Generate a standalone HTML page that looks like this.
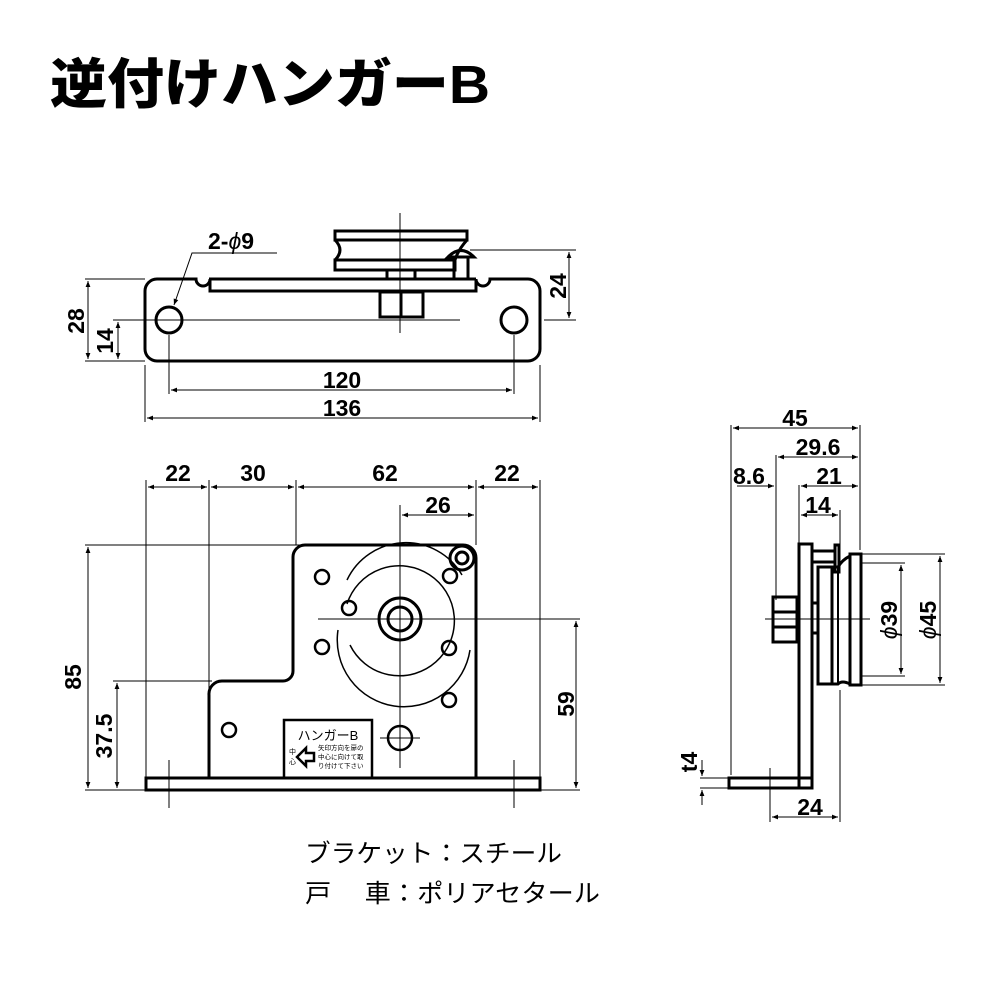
<!DOCTYPE html>
<html><head><meta charset="utf-8"><style>
body{margin:0;background:#fff;width:1000px;height:1000px;overflow:hidden}
svg{display:block}
.t{font-family:"Liberation Sans","Noto Sans CJK JP",sans-serif;font-weight:bold;font-size:23px;fill:#000}
</style></head><body>
<svg width="1000" height="1000" viewBox="0 0 1000 1000" xmlns="http://www.w3.org/2000/svg">
<defs>
<marker id="a" viewBox="0 0 10 10" refX="10" refY="5" markerWidth="8" markerHeight="6" orient="auto-start-reverse"><path d="M0,1L10,5L0,9z" fill="#000"/></marker>
</defs>
<text x="50" y="103" textLength="440" lengthAdjust="spacingAndGlyphs" style="font-family:'Liberation Sans','Noto Sans CJK JP',sans-serif;font-weight:900;font-size:54px">逆付けハンガーB</text>

<!-- TOP VIEW -->
<g fill="none" stroke="#000" stroke-width="3">
<path d="M157,279 H196 A7,7 0 0 0 210,279 V291 H476 V279 A7,7 0 0 0 490,279 H528 A12,12 0 0 1 540,291 V349 A12,12 0 0 1 528,361 H157 A12,12 0 0 1 145,349 V291 A12,12 0 0 1 157,279 Z"/>
<path d="M209,279 H476"/>
<circle cx="169" cy="320" r="13"/><circle cx="514" cy="320" r="13"/>
<rect x="335" y="231" width="132" height="9"/>
<rect x="335" y="260" width="120" height="10"/>
<path d="M335,240 Q345,250 335,260 M467,240 Q458,250 455,260"/>
<rect x="387" y="270" width="28" height="9"/>
<rect x="380" y="292" width="43" height="25"/>
<path d="M401,292V317"/>
<rect x="454" y="257" width="14" height="22"/>
<path d="M448,257 Q461,244 474,257 Z"/>
</g>
<g stroke="#000" stroke-width="1" fill="none">
<path d="M400,213V333 M138,320H460 M544,320H576 M470,250H576 M85,279H145 M85,361H145 M113,320H145 M169,335V394 M514,335V394 M145,365V422 M540,365V422"/>
<path d="M88,281V359" marker-start="url(#a)" marker-end="url(#a)"/>
<path d="M118,322V359" marker-start="url(#a)" marker-end="url(#a)"/>
<path d="M569,252V318" marker-start="url(#a)" marker-end="url(#a)"/>
<path d="M171,390H512" marker-start="url(#a)" marker-end="url(#a)"/>
<path d="M147,418H538" marker-start="url(#a)" marker-end="url(#a)"/>
<path d="M277,253H192 L174,305" marker-end="url(#a)"/>
</g>
<text class="t" x="208" y="249">2-<tspan font-style="italic" font-weight="normal">ϕ</tspan>9</text>
<text class="t" x="342" y="388" text-anchor="middle">120</text>
<text class="t" x="342" y="416" text-anchor="middle">136</text>
<text class="t" transform="translate(84,321) rotate(-90)" text-anchor="middle">28</text>
<text class="t" transform="translate(113,341) rotate(-90)" text-anchor="middle">14</text>
<text class="t" transform="translate(566,286) rotate(-90)" text-anchor="middle">24</text>

<!-- FRONT VIEW -->
<g fill="none" stroke="#000" stroke-width="3">
<rect x="146" y="778" width="394" height="12"/>
<path d="M209,778 V695 A13,13 0 0 1 222,681 H283 A10,10 0 0 0 293,671 V557 A12,12 0 0 1 305,545 H463 A13,13 0 0 1 476,558 V778"/>
<circle cx="400" cy="619" r="21"/><circle cx="400" cy="619" r="12"/>
<circle cx="462" cy="558" r="12"/><circle cx="462" cy="558" r="6"/>
<g stroke-width="2.5">
<circle cx="322" cy="577" r="7"/><circle cx="349" cy="608" r="7"/><circle cx="322" cy="647" r="7"/>
<circle cx="450" cy="576" r="7"/><circle cx="449" cy="648" r="7"/><circle cx="449" cy="700" r="7"/>
<circle cx="229" cy="730" r="7"/><circle cx="400" cy="738" r="12"/>
</g>
<rect x="284" y="720" width="88" height="58" stroke-width="2.5"/>
</g>
<g fill="none" stroke="#000" stroke-width="1.5">
<path d="M347,604 A55,55 0 1 1 350,645"/>
<path d="M347,580 A65,65 0 0 1 462,575"/>
<path d="M338,630 A65,65 0 0 0 470,650"/>
</g>
<g stroke="#000" stroke-width="1" fill="none">
<path d="M400,538V768 M318,619H480 M380,738H420 M169,760V808 M514,760V808"/>
<path d="M146,480V778 M209,480V778 M296,480V545 M476,480V545 M540,480V778 M400,505V545"/>
<path d="M85,545H300 M113,681H212 M480,619H580 M540,790H580 M85,790H146"/>
<path d="M148,487H207" marker-start="url(#a)" marker-end="url(#a)"/>
<path d="M211,487H294" marker-start="url(#a)" marker-end="url(#a)"/>
<path d="M298,487H474" marker-start="url(#a)" marker-end="url(#a)"/>
<path d="M478,487H538" marker-start="url(#a)" marker-end="url(#a)"/>
<path d="M402,515H474" marker-start="url(#a)" marker-end="url(#a)"/>
<path d="M88,547V788" marker-start="url(#a)" marker-end="url(#a)"/>
<path d="M117,683V788" marker-start="url(#a)" marker-end="url(#a)"/>
<path d="M576,621V788" marker-start="url(#a)" marker-end="url(#a)"/>
</g>
<text class="t" x="178" y="481" text-anchor="middle">22</text>
<text class="t" x="253" y="481" text-anchor="middle">30</text>
<text class="t" x="385" y="481" text-anchor="middle">62</text>
<text class="t" x="507" y="481" text-anchor="middle">22</text>
<text class="t" x="438" y="513" text-anchor="middle">26</text>
<text class="t" transform="translate(81,677) rotate(-90)" text-anchor="middle">85</text>
<text class="t" transform="translate(112,736) rotate(-90)" text-anchor="middle">37.5</text>
<text class="t" transform="translate(574,704) rotate(-90)" text-anchor="middle">59</text>
<text x="328" y="740" text-anchor="middle" style="font-family:'Liberation Sans','Noto Sans CJK JP',sans-serif;font-size:13px">ハンガーB</text>
<text x="289" y="754" style="font-family:'Noto Sans CJK JP',sans-serif;font-size:7px">中</text>
<text x="289" y="764" style="font-family:'Noto Sans CJK JP',sans-serif;font-size:7px">心</text>
<path d="M297,757 L306,748 V753 H314 V761 H306 V766 Z" fill="#fff" stroke="#000" stroke-width="2.5"/>
<text x="318" y="750" style="font-family:'Noto Sans CJK JP',sans-serif;font-size:6.5px">矢印方向を扉の</text>
<text x="318" y="759" style="font-family:'Noto Sans CJK JP',sans-serif;font-size:6.5px">中心に向けて取</text>
<text x="318" y="768" style="font-family:'Noto Sans CJK JP',sans-serif;font-size:6.5px">り付けて下さい</text>

<!-- SIDE VIEW -->
<g fill="none" stroke="#000" stroke-width="3">
<rect x="799" y="544" width="13" height="244"/>
<rect x="729" y="778" width="83" height="10"/>
<rect x="850" y="554" width="11" height="131"/>
<rect x="818" y="567" width="14" height="117"/>
<path d="M832,567 H838 Q842,560 850,556 M832,684 H838 Q842,680 850,684"/>
<path d="M838,567 V684" stroke-width="2"/>
<rect x="812" y="551" width="23" height="11"/>
<rect x="835" y="545" width="4" height="27"/>
<rect x="773" y="597" width="24" height="45"/>
<path d="M773,612H797 M773,627H797"/>
<rect x="797" y="599" width="2" height="40"/>
<rect x="812" y="603" width="6" height="30"/>
</g>
<g stroke="#000" stroke-width="1" fill="none">
<path d="M765,619H870"/>
<path d="M731,425V775 M776,455V600 M799,485V545 M840,510V550 M860,425V550 M840,690V822 M770,768V822"/>
<path d="M862,554H945 M862,563H905 M862,676H905 M862,685H945 M700,778H729 M700,788H729"/>
<path d="M733,428H858" marker-start="url(#a)" marker-end="url(#a)"/>
<path d="M778,457H858" marker-start="url(#a)" marker-end="url(#a)"/>
<path d="M737,486H774" marker-end="url(#a)"/>
<path d="M801,486H858" marker-start="url(#a)" marker-end="url(#a)"/>
<path d="M801,515H838" marker-start="url(#a)" marker-end="url(#a)"/>
<path d="M901,565V674" marker-start="url(#a)" marker-end="url(#a)"/>
<path d="M940,556V683" marker-start="url(#a)" marker-end="url(#a)"/>
<path d="M702,760V776" marker-end="url(#a)"/>
<path d="M702,805V790" marker-end="url(#a)"/>
<path d="M772,817H838" marker-start="url(#a)" marker-end="url(#a)"/>
</g>
<text class="t" x="795" y="426" text-anchor="middle">45</text>
<text class="t" x="818" y="455" text-anchor="middle">29.6</text>
<text class="t" x="749" y="484" text-anchor="middle">8.6</text>
<text class="t" x="829" y="484" text-anchor="middle">21</text>
<text class="t" x="818" y="513" text-anchor="middle">14</text>
<text class="t" x="810" y="815" text-anchor="middle">24</text>
<text class="t" transform="translate(897,620) rotate(-90)" text-anchor="middle"><tspan font-style="italic" font-weight="normal">ϕ</tspan>39</text>
<text class="t" transform="translate(936,620) rotate(-90)" text-anchor="middle"><tspan font-style="italic" font-weight="normal">ϕ</tspan>45</text>
<text class="t" transform="translate(697,762) rotate(-90)" text-anchor="middle">t4</text>

<text x="305" y="862" textLength="257" lengthAdjust="spacingAndGlyphs" style="font-family:'Liberation Sans','Noto Sans CJK JP',sans-serif;font-size:25px">ブラケット：スチール</text>
<text x="305" y="902" textLength="295" lengthAdjust="spacingAndGlyphs" style="font-family:'Liberation Sans','Noto Sans CJK JP',sans-serif;font-size:25px">戸　 車：ポリアセタール</text>
</svg>
</body></html>
